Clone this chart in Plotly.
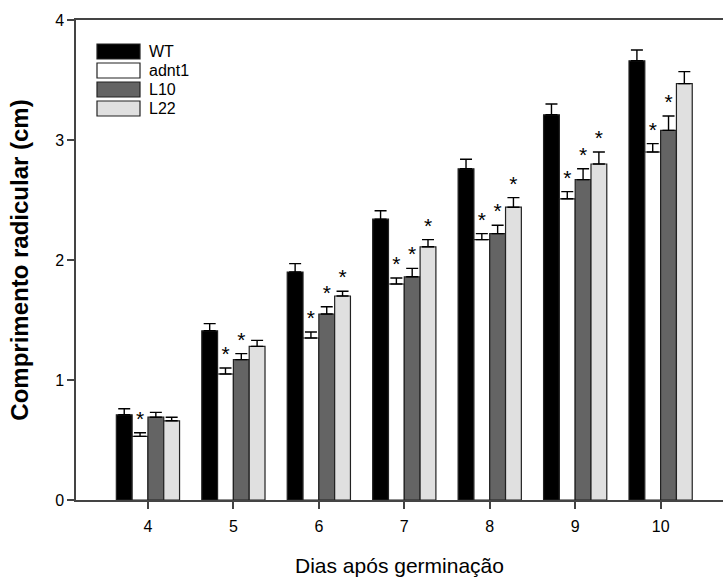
import plotly.graph_objects as go

days = [4, 5, 6, 7, 8, 9, 10]
tick_labels = ["4", "5", "6", "7", "8", "9", "10"]

series_names = ["WT", "adnt1", "L10", "L22"]
wt = [0.71, 1.41, 1.90, 2.34, 2.76, 3.21, 3.66]
wt_err = [0.05, 0.06, 0.07, 0.07, 0.08, 0.09, 0.09]
adnt1 = [0.53, 1.05, 1.35, 1.80, 2.17, 2.51, 2.90]
adnt1_err = [0.03, 0.05, 0.05, 0.05, 0.05, 0.06, 0.07]
l10 = [0.69, 1.17, 1.55, 1.86, 2.22, 2.67, 3.08]
l10_err = [0.04, 0.05, 0.06, 0.07, 0.07, 0.09, 0.12]
l22 = [0.66, 1.28, 1.70, 2.11, 2.44, 2.80, 3.47]
l22_err = [0.03, 0.05, 0.04, 0.06, 0.08, 0.10, 0.10]
# significance markers (1 = asterisk)
wt_sig = [0, 0, 0, 0, 0, 0, 0]
adnt1_sig = [1, 1, 1, 1, 1, 1, 1]
l10_sig = [0, 1, 1, 1, 1, 1, 1]
l22_sig = [0, 0, 1, 1, 1, 1, 0]

colors = ["#000000", "#ffffff", "#646464", "#e0e0e0"]

values = [wt, adnt1, l10, l22]
errors = [wt_err, adnt1_err, l10_err, l22_err]
sigs = [wt_sig, adnt1_sig, l10_sig, l22_sig]

FONT = "Liberation Sans, Arial, sans-serif"

fig = go.Figure()
for i, name in enumerate(series_names):
    fig.add_trace(go.Bar(
        x=days, y=values[i], name=name, offsetgroup=str(i),
        marker=dict(color=colors[i], line=dict(color="#222222", width=1.2)),
        error_y=dict(type="data", array=errors[i], symmetric=False,
                     arrayminus=[0] * len(days), color="#000000",
                     thickness=1.4, width=6),
        showlegend=False,
    ))

# asterisks via overlaid invisible bars with outside text
for i, name in enumerate(series_names):
    txt = ["*" if s else "" for s in sigs[i]]
    fig.add_trace(go.Bar(
        x=days, y=[v + e for v, e in zip(values[i], errors[i])],
        offsetgroup=str(i), base=0,
        marker=dict(color="rgba(0,0,0,0)", line=dict(width=0)),
        text=txt, textposition="outside", cliponaxis=False,
        textfont=dict(family=FONT, size=21, color="#000000"),
        showlegend=False, hoverinfo="skip",
    ))

fig.update_layout(
    barmode="group", bargap=0.26, bargroupgap=0,
    width=723, height=577,
    margin=dict(l=76, r=0, t=20, b=77, autoexpand=False),
    paper_bgcolor="white", plot_bgcolor="white",
    font=dict(family=FONT, size=16, color="#000000"),
)

fig.update_xaxes(
    range=[3.158, 10.73], tickmode="array", tickvals=days, ticktext=tick_labels,
    showline=True, linecolor="#444444", linewidth=1.5, mirror=True,
    ticks="outside", ticklen=7, tickcolor="#444444", tickwidth=1.5,
    showgrid=False, zeroline=False, automargin=False, ticklabelstandoff=4,
    tickfont=dict(family=FONT, size=16),
    title=dict(text="Dias após germinação", font=dict(family=FONT, size=21), standoff=26),
)
fig.update_yaxes(
    range=[0, 4], tickvals=[0, 1, 2, 3, 4],
    showline=True, linecolor="#444444", linewidth=1.5, mirror=False,
    ticks="outside", ticklen=7, tickcolor="#444444", tickwidth=1.5,
    showgrid=False, zeroline=False, automargin=False,
    tickfont=dict(family=FONT, size=16),
    title=dict(text="<b>Comprimento radicular (cm)</b>", font=dict(family=FONT, size=24), standoff=20),
)

# custom legend (wide rectangles)
leg_x0, leg_x1 = 97, 140
leg_y = [51.5, 70.5, 89.5, 108.5]
plot_l, plot_r, plot_t, plot_b = 76, 723, 20, 500
for i, name in enumerate(series_names):
    yc = leg_y[i]
    fig.add_shape(type="rect", xref="paper", yref="paper",
                  x0=(leg_x0 - plot_l) / (plot_r - plot_l), x1=(leg_x1 - plot_l) / (plot_r - plot_l),
                  y0=(plot_b - (yc + 7.5)) / (plot_b - plot_t), y1=(plot_b - (yc - 7.5)) / (plot_b - plot_t),
                  fillcolor=colors[i], line=dict(color="#222222", width=1.2))
    fig.add_annotation(xref="paper", yref="paper",
                       x=(147 - plot_l) / (plot_r - plot_l), y=(plot_b - yc) / (plot_b - plot_t),
                       text=name, showarrow=False, xanchor="left", yanchor="middle",
                       font=dict(family=FONT, size=16, color="#000000"))

fig.write_html("out.html", config={"displayModeBar": False},
               post_script="document.body.style.margin='0';document.body.style.overflow='hidden';")
